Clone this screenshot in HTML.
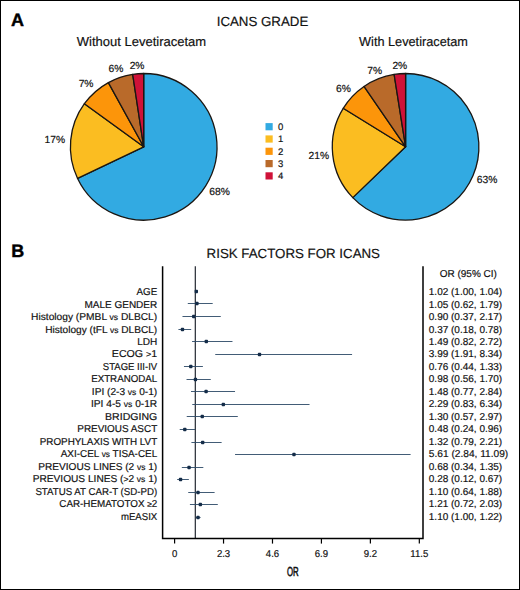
<!DOCTYPE html>
<html><head><meta charset="utf-8"><style>
html,body{margin:0;padding:0;background:#fff;}
svg{display:block;font-family:"Liberation Sans", sans-serif;}
text{text-rendering:geometricPrecision;}
</style></head><body>
<svg width="520" height="590" viewBox="0 0 520 590">
<rect x="0.5" y="0.5" width="519" height="589" fill="#fff" stroke="#000" stroke-width="1"/>
<text x="11" y="26.3" font-size="18" text-anchor="start" font-weight="bold" fill="#000" stroke="#000" stroke-width="0.4" >A</text>
<text x="262.5" y="26.4" font-size="13.3" text-anchor="middle" font-weight="normal" fill="#111" stroke="#111" stroke-width="0.18" >ICANS GRADE</text>
<text x="141.5" y="46.4" font-size="13" text-anchor="middle" font-weight="normal" fill="#111" stroke="#111" stroke-width="0.18" >Without Levetiracetam</text>
<text x="413.5" y="46.4" font-size="13" text-anchor="middle" font-weight="normal" fill="#111" stroke="#111" stroke-width="0.18" textLength="108.83" lengthAdjust="spacingAndGlyphs" >With Levetiracetam</text>
<path d="M143.70,146.80 L143.70,73.50 A73.3,73.3 0 1 1 77.57,178.43 Z" fill="#32aae2" stroke="#1a1612" stroke-width="1.3" stroke-linejoin="round"/>
<path d="M143.70,146.80 L77.57,178.43 A73.3,73.3 0 0 1 84.40,103.72 Z" fill="#fbbd21" stroke="#1a1612" stroke-width="1.3" stroke-linejoin="round"/>
<path d="M143.70,146.80 L84.40,103.72 A73.3,73.3 0 0 1 108.39,82.57 Z" fill="#fc950a" stroke="#1a1612" stroke-width="1.3" stroke-linejoin="round"/>
<path d="M143.70,146.80 L108.39,82.57 A73.3,73.3 0 0 1 132.69,74.33 Z" fill="#b96a2a" stroke="#1a1612" stroke-width="1.3" stroke-linejoin="round"/>
<path d="M143.70,146.80 L132.69,74.33 A73.3,73.3 0 0 1 143.70,73.50 Z" fill="#cf1238" stroke="#1a1612" stroke-width="1.3" stroke-linejoin="round"/>
<path d="M405.60,146.80 L405.60,73.50 A73.3,73.3 0 1 1 352.80,197.64 Z" fill="#32aae2" stroke="#1a1612" stroke-width="1.3" stroke-linejoin="round"/>
<path d="M405.60,146.80 L352.80,197.64 A73.3,73.3 0 0 1 343.22,108.30 Z" fill="#fbbd21" stroke="#1a1612" stroke-width="1.3" stroke-linejoin="round"/>
<path d="M405.60,146.80 L343.22,108.30 A73.3,73.3 0 0 1 364.02,86.44 Z" fill="#fc950a" stroke="#1a1612" stroke-width="1.3" stroke-linejoin="round"/>
<path d="M405.60,146.80 L364.02,86.44 A73.3,73.3 0 0 1 394.13,74.40 Z" fill="#b96a2a" stroke="#1a1612" stroke-width="1.3" stroke-linejoin="round"/>
<path d="M405.60,146.80 L394.13,74.40 A73.3,73.3 0 0 1 405.60,73.50 Z" fill="#cf1238" stroke="#1a1612" stroke-width="1.3" stroke-linejoin="round"/>
<text x="137.1" y="68.9" font-size="10.3" text-anchor="middle" font-weight="normal" fill="#111" stroke="#111" stroke-width="0.18" >2%</text>
<text x="115.9" y="72.0" font-size="10.3" text-anchor="middle" font-weight="normal" fill="#111" stroke="#111" stroke-width="0.18" >6%</text>
<text x="86.1" y="86.9" font-size="10.3" text-anchor="middle" font-weight="normal" fill="#111" stroke="#111" stroke-width="0.18" >7%</text>
<text x="54.75" y="142.5" font-size="10.3" text-anchor="middle" font-weight="normal" fill="#111" stroke="#111" stroke-width="0.18" >17%</text>
<text x="219.6" y="194.8" font-size="10.3" text-anchor="middle" font-weight="normal" fill="#111" stroke="#111" stroke-width="0.18" >68%</text>
<text x="399.85" y="68.6" font-size="10.3" text-anchor="middle" font-weight="normal" fill="#111" stroke="#111" stroke-width="0.18" >2%</text>
<text x="374.65" y="73.7" font-size="10.3" text-anchor="middle" font-weight="normal" fill="#111" stroke="#111" stroke-width="0.18" >7%</text>
<text x="343.5" y="92.1" font-size="10.3" text-anchor="middle" font-weight="normal" fill="#111" stroke="#111" stroke-width="0.18" >6%</text>
<text x="318.85" y="158.8" font-size="10.3" text-anchor="middle" font-weight="normal" fill="#111" stroke="#111" stroke-width="0.18" >21%</text>
<text x="487" y="182.9" font-size="10.3" text-anchor="middle" font-weight="normal" fill="#111" stroke="#111" stroke-width="0.18" >63%</text>
<rect x="265.5" y="123.10" width="7.2" height="7.2" fill="#32aae2"/>
<text x="278" y="130.0" font-size="9.5" text-anchor="start" font-weight="normal" fill="#111" stroke="#111" stroke-width="0.18" >0</text>
<rect x="265.5" y="135.40" width="7.2" height="7.2" fill="#fbbd21"/>
<text x="278" y="142.3" font-size="9.5" text-anchor="start" font-weight="normal" fill="#111" stroke="#111" stroke-width="0.18" >1</text>
<rect x="265.5" y="147.70" width="7.2" height="7.2" fill="#fc950a"/>
<text x="278" y="154.6" font-size="9.5" text-anchor="start" font-weight="normal" fill="#111" stroke="#111" stroke-width="0.18" >2</text>
<rect x="265.5" y="160.00" width="7.2" height="7.2" fill="#b96a2a"/>
<text x="278" y="166.9" font-size="9.5" text-anchor="start" font-weight="normal" fill="#111" stroke="#111" stroke-width="0.18" >3</text>
<rect x="265.5" y="172.30" width="7.2" height="7.2" fill="#cf1238"/>
<text x="278" y="179.20000000000002" font-size="9.5" text-anchor="start" font-weight="normal" fill="#111" stroke="#111" stroke-width="0.18" >4</text>
<text x="11.3" y="256.6" font-size="18" text-anchor="start" font-weight="bold" fill="#000" stroke="#000" stroke-width="0.4" >B</text>
<text x="293.3" y="258.2" font-size="13.3" text-anchor="middle" font-weight="normal" fill="#111" stroke="#111" stroke-width="0.18" >RISK FACTORS FOR ICANS</text>
<line x1="195.3" y1="266.3" x2="195.3" y2="538.4" stroke="#1a1f28" stroke-width="1.15"/>
<text x="157.2" y="295.10" font-size="10" text-anchor="end" font-weight="normal" fill="#111" stroke="#111" stroke-width="0.18" textLength="20.67" lengthAdjust="spacingAndGlyphs" >AGE</text>
<text x="428.8" y="295.10" font-size="10" text-anchor="start" font-weight="normal" fill="#111" stroke="#111" stroke-width="0.18" >1.02 (1.00, 1.04)</text>
<line x1="195.88" y1="291.50" x2="196.73" y2="291.50" stroke="#2d4a66" stroke-width="0.9"/>
<rect x="194.61" y="289.80" width="3.4" height="3.4" rx="0.9" fill="#142c48"/>
<text x="157.2" y="307.57" font-size="10" text-anchor="end" font-weight="normal" fill="#111" stroke="#111" stroke-width="0.18" textLength="72.70" lengthAdjust="spacingAndGlyphs" >MALE GENDER</text>
<text x="428.8" y="307.57" font-size="10" text-anchor="start" font-weight="normal" fill="#111" stroke="#111" stroke-width="0.18" >1.05 (0.62, 1.79)</text>
<line x1="187.79" y1="303.50" x2="212.69" y2="303.50" stroke="#2d4a66" stroke-width="0.9"/>
<rect x="195.24" y="301.80" width="3.4" height="3.4" rx="0.9" fill="#142c48"/>
<text x="157.2" y="320.04" font-size="10" text-anchor="end" font-weight="normal" fill="#111" stroke="#111" stroke-width="0.18" textLength="126.11" lengthAdjust="spacingAndGlyphs" >Histology (PMBL <tspan font-size="8.4">vs</tspan> DLBCL)</text>
<text x="428.8" y="320.04" font-size="10" text-anchor="start" font-weight="normal" fill="#111" stroke="#111" stroke-width="0.18" >0.90 (0.37, 2.17)</text>
<line x1="182.47" y1="316.50" x2="220.78" y2="316.50" stroke="#2d4a66" stroke-width="0.9"/>
<rect x="192.05" y="314.80" width="3.4" height="3.4" rx="0.9" fill="#142c48"/>
<text x="157.2" y="332.51" font-size="10" text-anchor="end" font-weight="normal" fill="#111" stroke="#111" stroke-width="0.18" textLength="111.99" lengthAdjust="spacingAndGlyphs" >Histology (tFL <tspan font-size="8.4">vs</tspan> DLBCL)</text>
<text x="428.8" y="332.51" font-size="10" text-anchor="start" font-weight="normal" fill="#111" stroke="#111" stroke-width="0.18" >0.37 (0.18, 0.78)</text>
<line x1="178.43" y1="329.50" x2="191.20" y2="329.50" stroke="#2d4a66" stroke-width="0.9"/>
<rect x="180.77" y="327.80" width="3.4" height="3.4" rx="0.9" fill="#142c48"/>
<text x="157.2" y="344.98" font-size="10" text-anchor="end" font-weight="normal" fill="#111" stroke="#111" stroke-width="0.18" textLength="20.07" lengthAdjust="spacingAndGlyphs" >LDH</text>
<text x="428.8" y="344.98" font-size="10" text-anchor="start" font-weight="normal" fill="#111" stroke="#111" stroke-width="0.18" >1.49 (0.82, 2.72)</text>
<line x1="192.05" y1="341.50" x2="232.48" y2="341.50" stroke="#2d4a66" stroke-width="0.9"/>
<rect x="204.61" y="339.80" width="3.4" height="3.4" rx="0.9" fill="#142c48"/>
<text x="157.2" y="357.45" font-size="10" text-anchor="end" font-weight="normal" fill="#111" stroke="#111" stroke-width="0.18" textLength="45.37" lengthAdjust="spacingAndGlyphs" >ECOG <tspan font-size="8.4">&gt;</tspan>1</text>
<text x="428.8" y="357.45" font-size="10" text-anchor="start" font-weight="normal" fill="#111" stroke="#111" stroke-width="0.18" >3.99 (1.91, 8.34)</text>
<line x1="215.24" y1="354.50" x2="352.08" y2="354.50" stroke="#2d4a66" stroke-width="0.9"/>
<rect x="257.81" y="352.80" width="3.4" height="3.4" rx="0.9" fill="#142c48"/>
<text x="157.2" y="369.92" font-size="10" text-anchor="end" font-weight="normal" fill="#111" stroke="#111" stroke-width="0.18" textLength="54.33" lengthAdjust="spacingAndGlyphs" >STAGE III-IV</text>
<text x="428.8" y="369.92" font-size="10" text-anchor="start" font-weight="normal" fill="#111" stroke="#111" stroke-width="0.18" >0.76 (0.44, 1.33)</text>
<line x1="183.96" y1="366.50" x2="202.90" y2="366.50" stroke="#2d4a66" stroke-width="0.9"/>
<rect x="189.07" y="364.80" width="3.4" height="3.4" rx="0.9" fill="#142c48"/>
<text x="157.2" y="382.39" font-size="10" text-anchor="end" font-weight="normal" fill="#111" stroke="#111" stroke-width="0.18" textLength="66.03" lengthAdjust="spacingAndGlyphs" >EXTRANODAL</text>
<text x="428.8" y="382.39" font-size="10" text-anchor="start" font-weight="normal" fill="#111" stroke="#111" stroke-width="0.18" >0.98 (0.56, 1.70)</text>
<line x1="186.52" y1="379.50" x2="210.78" y2="379.50" stroke="#2d4a66" stroke-width="0.9"/>
<rect x="193.75" y="377.80" width="3.4" height="3.4" rx="0.9" fill="#142c48"/>
<text x="157.2" y="394.86" font-size="10" text-anchor="end" font-weight="normal" fill="#111" stroke="#111" stroke-width="0.18" textLength="65.36" lengthAdjust="spacingAndGlyphs" >IPI (2-3 <tspan font-size="8.4">vs</tspan> 0-1)</text>
<text x="428.8" y="394.86" font-size="10" text-anchor="start" font-weight="normal" fill="#111" stroke="#111" stroke-width="0.18" >1.48 (0.77, 2.84)</text>
<line x1="190.99" y1="391.50" x2="235.04" y2="391.50" stroke="#2d4a66" stroke-width="0.9"/>
<rect x="204.39" y="389.80" width="3.4" height="3.4" rx="0.9" fill="#142c48"/>
<text x="157.2" y="407.33" font-size="10" text-anchor="end" font-weight="normal" fill="#111" stroke="#111" stroke-width="0.18" textLength="66.20" lengthAdjust="spacingAndGlyphs" >IPI 4-5 <tspan font-size="8.4">vs</tspan> 0-1R</text>
<text x="428.8" y="407.33" font-size="10" text-anchor="start" font-weight="normal" fill="#111" stroke="#111" stroke-width="0.18" >2.29 (0.83, 6.34)</text>
<line x1="192.26" y1="404.50" x2="309.52" y2="404.50" stroke="#2d4a66" stroke-width="0.9"/>
<rect x="221.63" y="402.80" width="3.4" height="3.4" rx="0.9" fill="#142c48"/>
<text x="157.2" y="419.80" font-size="10" text-anchor="end" font-weight="normal" fill="#111" stroke="#111" stroke-width="0.18" textLength="52.12" lengthAdjust="spacingAndGlyphs" >BRIDGING</text>
<text x="428.8" y="419.80" font-size="10" text-anchor="start" font-weight="normal" fill="#111" stroke="#111" stroke-width="0.18" >1.30 (0.57, 2.97)</text>
<line x1="186.73" y1="416.50" x2="237.80" y2="416.50" stroke="#2d4a66" stroke-width="0.9"/>
<rect x="200.56" y="414.80" width="3.4" height="3.4" rx="0.9" fill="#142c48"/>
<text x="157.2" y="432.27" font-size="10" text-anchor="end" font-weight="normal" fill="#111" stroke="#111" stroke-width="0.18" textLength="79.92" lengthAdjust="spacingAndGlyphs" >PREVIOUS ASCT</text>
<text x="428.8" y="432.27" font-size="10" text-anchor="start" font-weight="normal" fill="#111" stroke="#111" stroke-width="0.18" >0.48 (0.24, 0.96)</text>
<line x1="179.71" y1="429.50" x2="195.03" y2="429.50" stroke="#2d4a66" stroke-width="0.9"/>
<rect x="183.11" y="427.80" width="3.4" height="3.4" rx="0.9" fill="#142c48"/>
<text x="157.2" y="444.74" font-size="10" text-anchor="end" font-weight="normal" fill="#111" stroke="#111" stroke-width="0.18" textLength="117.40" lengthAdjust="spacingAndGlyphs" >PROPHYLAXIS WITH LVT</text>
<text x="428.8" y="444.74" font-size="10" text-anchor="start" font-weight="normal" fill="#111" stroke="#111" stroke-width="0.18" >1.32 (0.79, 2.21)</text>
<line x1="191.41" y1="442.50" x2="221.63" y2="442.50" stroke="#2d4a66" stroke-width="0.9"/>
<rect x="200.99" y="440.80" width="3.4" height="3.4" rx="0.9" fill="#142c48"/>
<text x="157.2" y="457.21" font-size="10" text-anchor="end" font-weight="normal" fill="#111" stroke="#111" stroke-width="0.18" textLength="96.46" lengthAdjust="spacingAndGlyphs" >AXI-CEL <tspan font-size="8.4">vs</tspan> TISA-CEL</text>
<text x="428.8" y="457.21" font-size="10" text-anchor="start" font-weight="normal" fill="#111" stroke="#111" stroke-width="0.18" textLength="79.41" lengthAdjust="spacingAndGlyphs" >5.61 (2.84, 11.09)</text>
<line x1="235.04" y1="454.50" x2="410.60" y2="454.50" stroke="#2d4a66" stroke-width="0.9"/>
<rect x="292.28" y="452.80" width="3.4" height="3.4" rx="0.9" fill="#142c48"/>
<text x="157.2" y="469.68" font-size="10" text-anchor="end" font-weight="normal" fill="#111" stroke="#111" stroke-width="0.18" textLength="118.84" lengthAdjust="spacingAndGlyphs" >PREVIOUS LINES (2 <tspan font-size="8.4">vs</tspan> 1)</text>
<text x="428.8" y="469.68" font-size="10" text-anchor="start" font-weight="normal" fill="#111" stroke="#111" stroke-width="0.18" >0.68 (0.34, 1.35)</text>
<line x1="181.84" y1="467.50" x2="203.33" y2="467.50" stroke="#2d4a66" stroke-width="0.9"/>
<rect x="187.37" y="465.80" width="3.4" height="3.4" rx="0.9" fill="#142c48"/>
<text x="157.2" y="482.15" font-size="10" text-anchor="end" font-weight="normal" fill="#111" stroke="#111" stroke-width="0.18" textLength="124.45" lengthAdjust="spacingAndGlyphs" >PREVIOUS LINES (<tspan font-size="8.4">&gt;</tspan>2 <tspan font-size="8.4">vs</tspan> 1)</text>
<text x="428.8" y="482.15" font-size="10" text-anchor="start" font-weight="normal" fill="#111" stroke="#111" stroke-width="0.18" >0.28 (0.12, 0.67)</text>
<line x1="177.15" y1="479.50" x2="188.86" y2="479.50" stroke="#2d4a66" stroke-width="0.9"/>
<rect x="178.86" y="477.80" width="3.4" height="3.4" rx="0.9" fill="#142c48"/>
<text x="157.2" y="494.62" font-size="10" text-anchor="end" font-weight="normal" fill="#111" stroke="#111" stroke-width="0.18" textLength="121.79" lengthAdjust="spacingAndGlyphs" >STATUS AT CAR-T (SD-PD)</text>
<text x="428.8" y="494.62" font-size="10" text-anchor="start" font-weight="normal" fill="#111" stroke="#111" stroke-width="0.18" >1.10 (0.64, 1.88)</text>
<line x1="188.22" y1="492.50" x2="214.61" y2="492.50" stroke="#2d4a66" stroke-width="0.9"/>
<rect x="196.31" y="490.80" width="3.4" height="3.4" rx="0.9" fill="#142c48"/>
<text x="157.2" y="507.09" font-size="10" text-anchor="end" font-weight="normal" fill="#111" stroke="#111" stroke-width="0.18" textLength="97.91" lengthAdjust="spacingAndGlyphs" >CAR-HEMATOTOX <tspan font-size="8.4">≥</tspan>2</text>
<text x="428.8" y="507.09" font-size="10" text-anchor="start" font-weight="normal" fill="#111" stroke="#111" stroke-width="0.18" >1.21 (0.72, 2.03)</text>
<line x1="189.92" y1="504.50" x2="217.80" y2="504.50" stroke="#2d4a66" stroke-width="0.9"/>
<rect x="198.65" y="502.80" width="3.4" height="3.4" rx="0.9" fill="#142c48"/>
<text x="157.2" y="519.56" font-size="10" text-anchor="end" font-weight="normal" fill="#111" stroke="#111" stroke-width="0.18" textLength="36.26" lengthAdjust="spacingAndGlyphs" >mEASIX</text>
<text x="428.8" y="519.56" font-size="10" text-anchor="start" font-weight="normal" fill="#111" stroke="#111" stroke-width="0.18" >1.10 (1.00, 1.22)</text>
<line x1="195.88" y1="517.50" x2="200.56" y2="517.50" stroke="#2d4a66" stroke-width="0.9"/>
<rect x="196.31" y="515.80" width="3.4" height="3.4" rx="0.9" fill="#142c48"/>
<text x="439.7" y="277.2" font-size="10" text-anchor="start" font-weight="normal" fill="#111" stroke="#111" stroke-width="0.18" >OR (95% CI)</text>
<path d="M162.6,266.2 V538.6 H423 V266.2" fill="none" stroke="#000" stroke-width="1.5"/>
<line x1="174.60" y1="538.6" x2="174.60" y2="543.6" stroke="#000" stroke-width="1.2"/>
<text x="174.60" y="557" font-size="10" text-anchor="middle" font-weight="normal" fill="#111" stroke="#111" stroke-width="0.18" textLength="5.33" lengthAdjust="spacingAndGlyphs" >0</text>
<line x1="223.54" y1="538.6" x2="223.54" y2="543.6" stroke="#000" stroke-width="1.2"/>
<text x="223.54" y="557" font-size="10" text-anchor="middle" font-weight="normal" fill="#111" stroke="#111" stroke-width="0.18" textLength="13.33" lengthAdjust="spacingAndGlyphs" >2.3</text>
<line x1="272.49" y1="538.6" x2="272.49" y2="543.6" stroke="#000" stroke-width="1.2"/>
<text x="272.49" y="557" font-size="10" text-anchor="middle" font-weight="normal" fill="#111" stroke="#111" stroke-width="0.18" textLength="13.33" lengthAdjust="spacingAndGlyphs" >4.6</text>
<line x1="321.43" y1="538.6" x2="321.43" y2="543.6" stroke="#000" stroke-width="1.2"/>
<text x="321.43" y="557" font-size="10" text-anchor="middle" font-weight="normal" fill="#111" stroke="#111" stroke-width="0.18" textLength="13.33" lengthAdjust="spacingAndGlyphs" >6.9</text>
<line x1="370.38" y1="538.6" x2="370.38" y2="543.6" stroke="#000" stroke-width="1.2"/>
<text x="370.38" y="557" font-size="10" text-anchor="middle" font-weight="normal" fill="#111" stroke="#111" stroke-width="0.18" textLength="13.33" lengthAdjust="spacingAndGlyphs" >9.2</text>
<line x1="419.32" y1="538.6" x2="419.32" y2="543.6" stroke="#000" stroke-width="1.2"/>
<text x="419.32" y="557" font-size="10" text-anchor="middle" font-weight="normal" fill="#111" stroke="#111" stroke-width="0.18" textLength="17.94" lengthAdjust="spacingAndGlyphs" >11.5</text>
<text x="0" y="0" font-size="13" text-anchor="middle" fill="#111" stroke="#111" stroke-width="0.6" transform="translate(292.8,575.7) scale(0.6,1)">OR</text>
</svg>
</body></html>
